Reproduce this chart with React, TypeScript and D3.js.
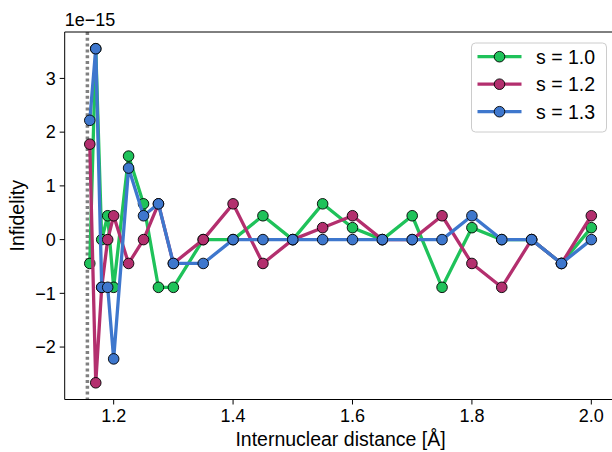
import React from "react";
import * as d3 from "d3";

const distances = [1.16, 1.17, 1.18, 1.19, 1.2, 1.225, 1.25, 1.275, 1.3, 1.35, 1.4, 1.45, 1.5, 1.55, 1.6, 1.65, 1.7, 1.75, 1.8, 1.85, 1.9, 1.95, 2.0];
// infidelity values in units of 1e-15
const s10 = [-0.444, 3.553, 0, 0.444, -0.888, 1.554, 0.666, -0.888, -0.888, 0, 0, 0.444, 0, 0.666, 0.222, 0, 0.444, -0.888, 0.222, 0, 0, -0.444, 0.222];
const s12 = [1.776, -2.665, -0.888, 0, 0.444, -0.444, 0, 0.666, -0.444, 0, 0.666, -0.444, 0, 0.222, 0.444, 0, 0, 0.444, -0.444, -0.888, 0, -0.444, 0.444];
const s13 = [2.22, 3.553, -0.888, -0.888, -2.22, 1.332, 0.444, 0.666, -0.444, -0.444, 0, 0, 0, 0, 0, 0, 0, 0, 0.444, 0, 0, -0.444, 0];
const seriesLabels = ["s = 1.0", "s = 1.2", "s = 1.3"];
const seriesColors = ["#1fc25a", "#b32f6e", "#3e77cd"];
const xTicks = [1.2, 1.4, 1.6, 1.8, 2.0];
const yTicks = [-2, -1, 0, 1, 2, 3];
const refLine = 1.156;

const W = 612, H = 452;
const left = 64.7, right = 616.4, top = 32, bottom = 399.5;
const FONT = "'Liberation Sans', Arial, sans-serif";

export default function App() {
  const x = d3.scaleLinear().domain([1.118, 2.042]).range([left, right]);
  const y = d3.scaleLinear().domain([-2.976, 3.864]).range([bottom, top]);
  const series = [s10, s12, s13];
  const line = d3.line<[number, number]>().x(d => x(d[0])).y(d => y(d[1]));
  const fmtMinus = (v: number) => String(v).replace("-", "\u2212");

  return (
    <svg width={W} height={H} style={{ position: "absolute", left: 0, top: 0, background: "#fff" }} fontFamily={FONT}>
      <defs>
        <clipPath id="plotclip">
          <rect x={left} y={top} width={right - left} height={bottom - top} />
        </clipPath>
      </defs>
      <rect x={0} y={0} width={W} height={H} fill="#fff" />
      <g clipPath="url(#plotclip)">
        <line x1={x(refLine)} x2={x(refLine)} y1={top} y2={bottom} stroke="#808080" strokeWidth={3.5} strokeDasharray="3,2.8" />
        {series.map((vals, i) => {
          const pts: [number, number][] = distances.map((d, j) => [d, vals[j]]);
          return (
            <g key={i}>
              <path d={line(pts) || ""} fill="none" stroke={seriesColors[i]} strokeWidth={3.3} strokeLinejoin="round" />
              {pts.map((p, j) => (
                <circle key={j} cx={x(p[0])} cy={y(p[1])} r={5.3} fill={seriesColors[i]} stroke="#000" strokeWidth={0.9} />
              ))}
            </g>
          );
        })}
      </g>
      {/* spines */}
      <line x1={left} x2={left} y1={top} y2={bottom} stroke="#000" strokeWidth={1} />
      <line x1={left} x2={right} y1={bottom} y2={bottom} stroke="#000" strokeWidth={1} />
      <line x1={left} x2={right} y1={top} y2={top} stroke="#000" strokeWidth={1} />
      <line x1={right} x2={right} y1={top} y2={bottom} stroke="#000" strokeWidth={1} />
      {/* x ticks */}
      {xTicks.map(t => (
        <g key={t}>
          <line x1={x(t)} x2={x(t)} y1={bottom} y2={bottom + 5} stroke="#000" strokeWidth={1} />
          <text x={x(t)} y={bottom + 22} textAnchor="middle" fontSize={18} fill="#000">{t.toFixed(1)}</text>
        </g>
      ))}
      {/* y ticks */}
      {yTicks.map(t => (
        <g key={t}>
          <line x1={left - 5} x2={left} y1={y(t)} y2={y(t)} stroke="#000" strokeWidth={1} />
          <text x={left - 9} y={y(t) + 6.3} textAnchor="end" fontSize={18} fill="#000">{fmtMinus(t)}</text>
        </g>
      ))}
      <text x={left} y={top - 6} fontSize={18} fill="#000">1e{"\u2212"}15</text>
      <text x={(left + 616.4) / 2} y={446} textAnchor="middle" fontSize={19.5} fill="#000">Internuclear distance [Å]</text>
      <text transform={`translate(24,${(top + bottom) / 2}) rotate(-90)`} textAnchor="middle" fontSize={19.5} fill="#000">Infidelity</text>
      {/* legend */}
      <g>
        <rect x={471.5} y={43} width={135} height={89} rx={4} fill="#fff" fillOpacity={0.8} stroke="#cccccc" strokeWidth={1} />
        {seriesLabels.map((lab, i) => {
          const cy = 56.7 + i * 27.5;
          return (
            <g key={lab}>
              <line x1={477.5} x2={521.5} y1={cy} y2={cy} stroke={seriesColors[i]} strokeWidth={3.3} />
              <circle cx={499.5} cy={cy} r={5.3} fill={seriesColors[i]} stroke="#000" strokeWidth={0.9} />
              <text x={536} y={cy + 7} fontSize={19.5} fill="#000">{lab}</text>
            </g>
          );
        })}
      </g>
    </svg>
  );
}
